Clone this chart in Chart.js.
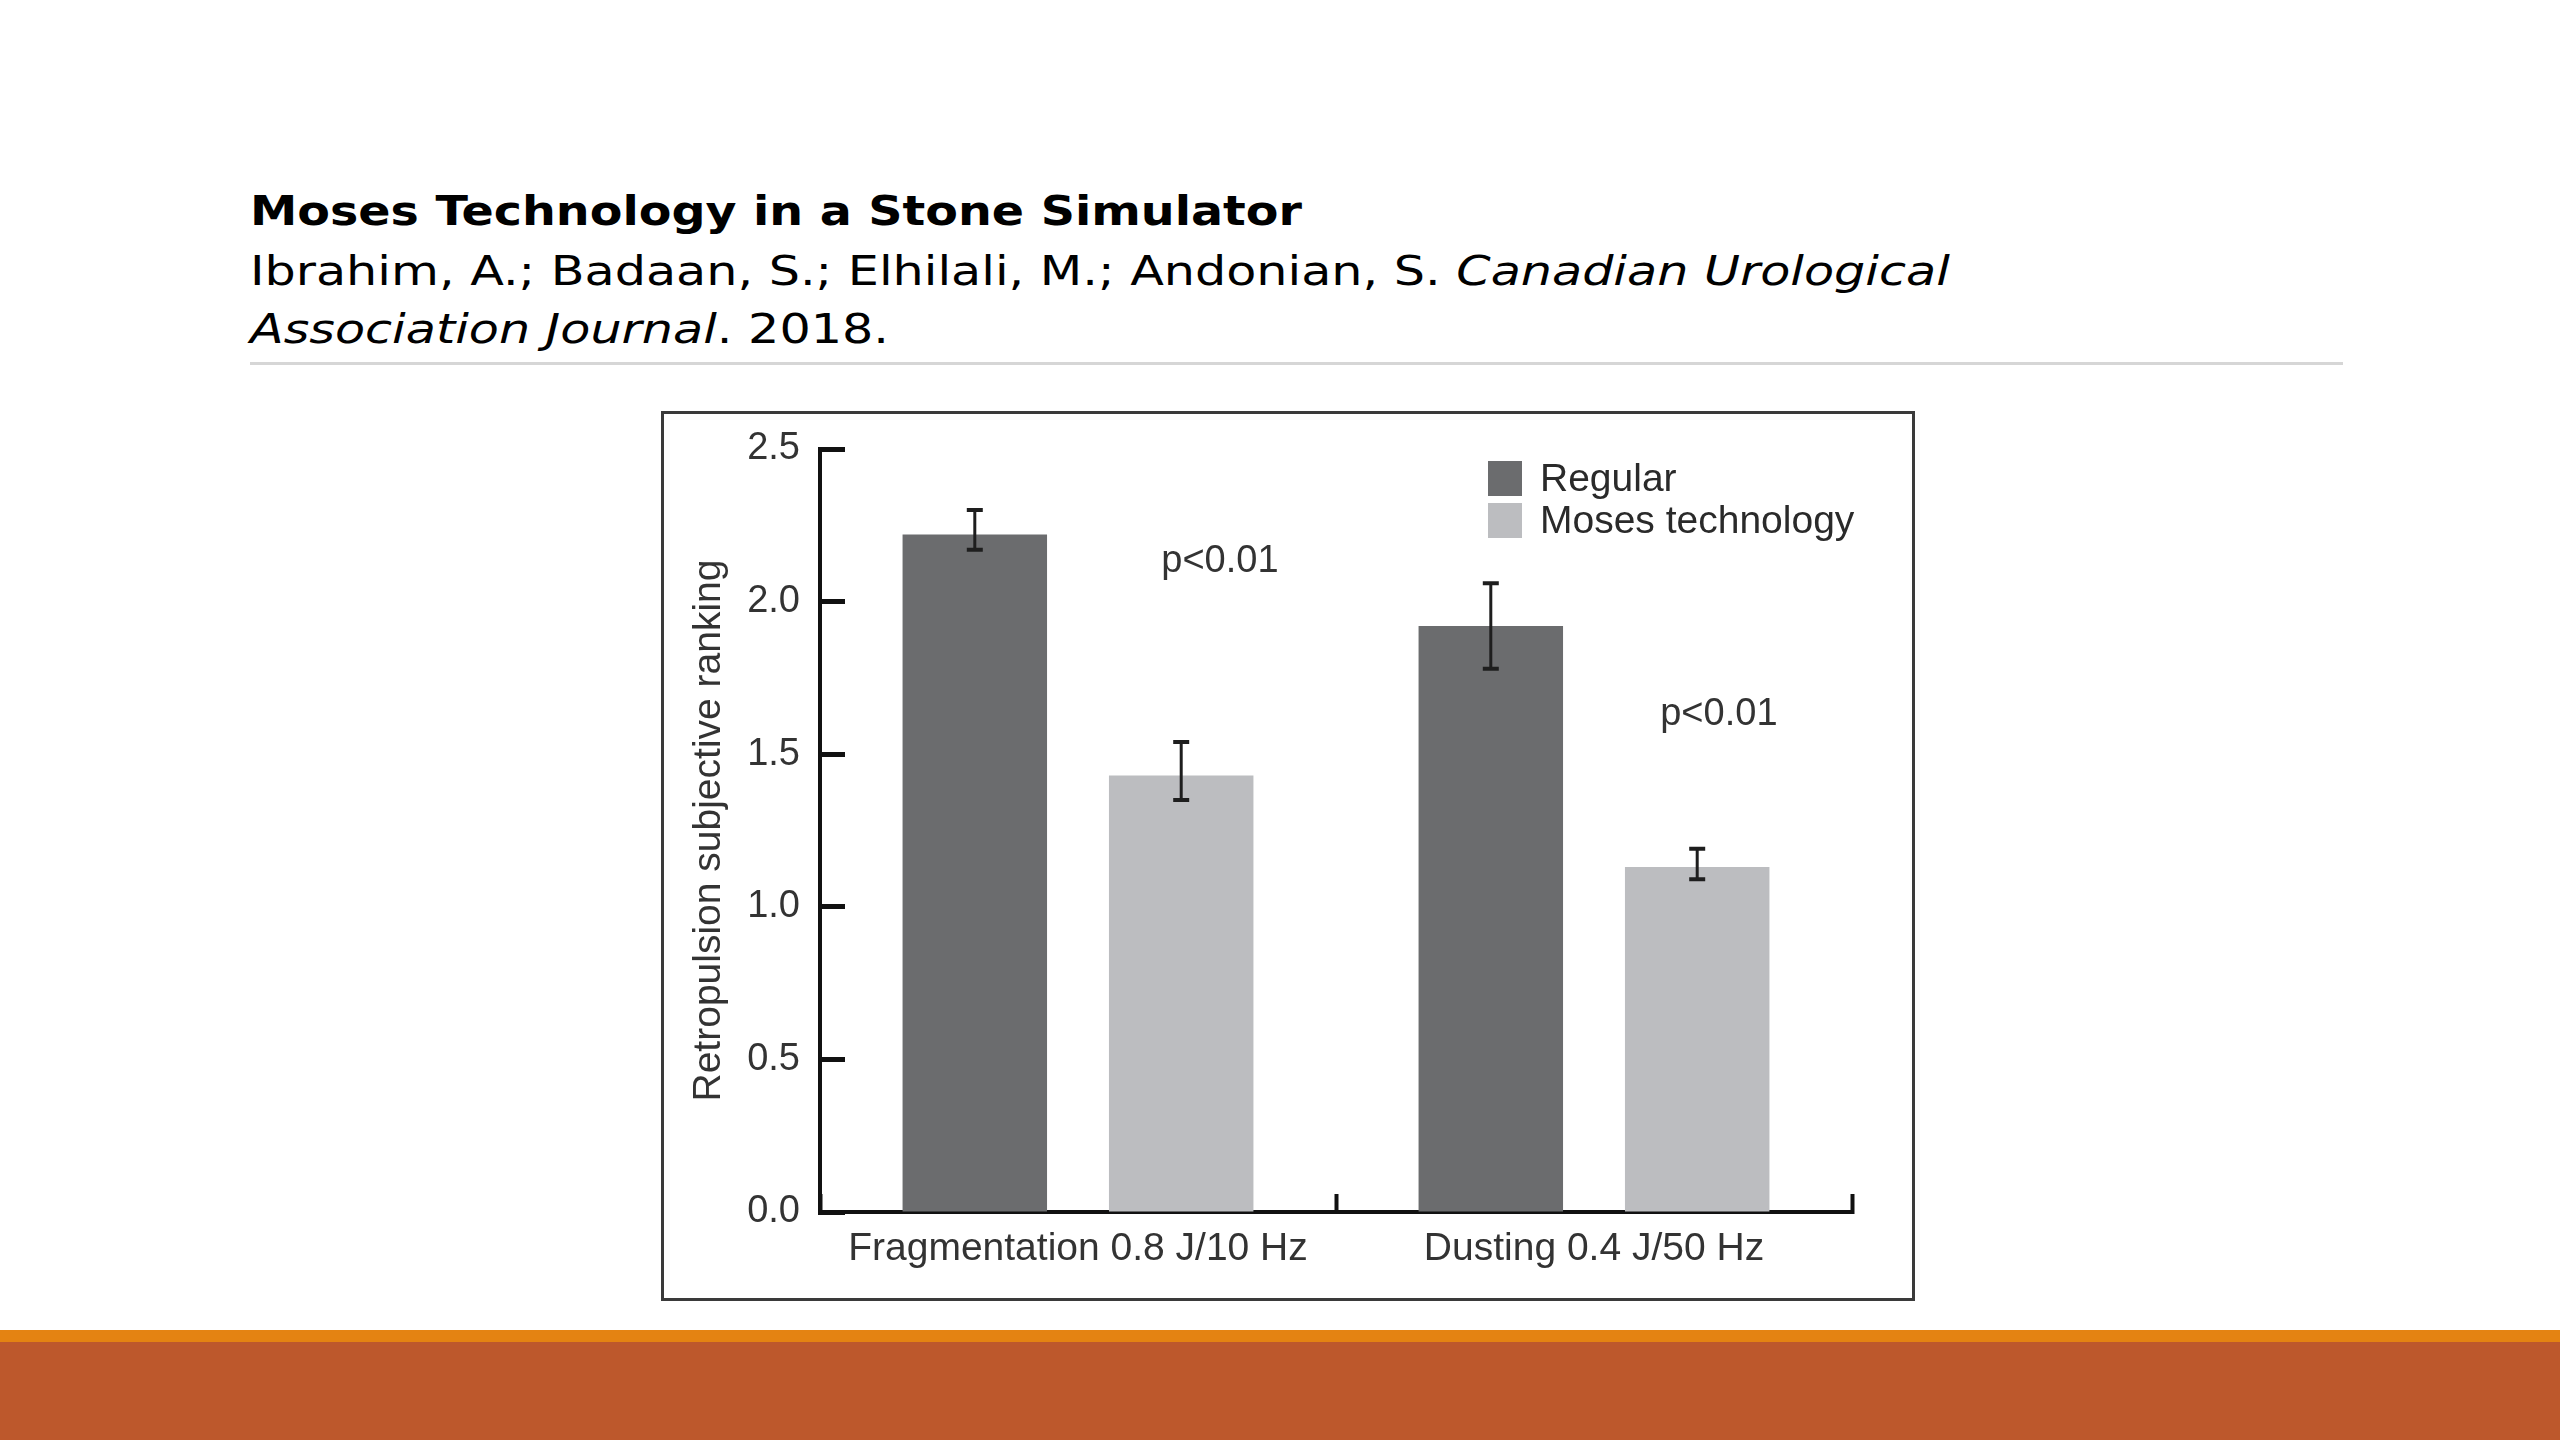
<!DOCTYPE html>
<html>
<head>
<meta charset="utf-8">
<script src="https://cdn.jsdelivr.net/npm/chart.js@4.4.1/dist/chart.umd.min.js"></script>
<style>
  html, body { margin: 0; padding: 0; background: #fff; }
  body { width: 2560px; height: 1440px; position: relative; overflow: hidden; font-family: "DejaVu Sans", Verdana, sans-serif; color: #000; }
  .title { position: absolute; left: 250px; top: 186px; font-size: 41px; line-height: 50px; font-weight: bold; white-space: nowrap; transform: scaleX(1.16); transform-origin: 0 0; }
  .cite { position: absolute; left: 250px; top: 242px; font-size: 40px; line-height: 58px; white-space: nowrap; transform: scaleX(1.23); transform-origin: 0 0; }
  .rule { position: absolute; left: 250px; top: 362px; width: 2093px; height: 3px; background: #d6d6d6; }
  .frame { position: absolute; left: 661px; top: 411px; width: 1254px; height: 890px; border: 3px solid #3a3a3a; box-sizing: border-box; background: #fff; }
  .frame .inner { position: relative; width: 1248px; height: 884px; }
  .band1 { position: absolute; left: 0; top: 1330px; width: 2560px; height: 12px; background: #e48312; }
  .band2 { position: absolute; left: 0; top: 1342px; width: 2560px; height: 98px; background: #bd582c; }
</style>
</head>
<body>
<div class="title">Moses Technology in a Stone Simulator</div>
<div class="cite">Ibrahim, A.; Badaan, S.; Elhilali, M.; Andonian, S. <i>Canadian Urological</i><br><i>Association Journal</i>. 2018.</div>
<div class="rule"></div>
<div class="frame"><div class="inner"><canvas id="retroChart"></canvas></div></div>
<div class="band1"></div>
<div class="band2"></div>
<script>
// values
const categories = ["Fragmentation 0.8 J/10 Hz", "Dusting 0.4 J/50 Hz"];
const seriesNames = ["Regular", "Moses technology"];
const regularMean = [2.22, 1.92];
const regularErrHigh = [2.30, 2.06];
const regularErrLow = [2.17, 1.78];
const mosesMean = [1.43, 1.13];
const mosesErrHigh = [1.54, 1.19];
const mosesErrLow = [1.35, 1.09];
const pValueText = ["p<0.01", "p<0.01"];
const yTicks = [0, 0.5, 1.0, 1.5, 2.0, 2.5];

const chartFont = "'Liberation Sans', Arial, sans-serif";
const colors = ["#6b6c6e", "#bcbdc0"];

// error whiskers drawn from each bar's own position
const errorBars = {
    id: "errorBars",
    afterDatasetsDraw(chart) {
        const ctx = chart.ctx;
        const y = chart.scales.y;
        chart.data.datasets.forEach((ds, i) => {
            chart.getDatasetMeta(i).data.forEach((bar, j) => {
                const top = y.getPixelForValue(ds.errHigh[j]);
                const bottom = y.getPixelForValue(ds.errLow[j]);
                ctx.save();
                ctx.strokeStyle = "#1e1e1e";
                ctx.lineWidth = 3;
                ctx.beginPath();
                ctx.moveTo(bar.x, top);
                ctx.lineTo(bar.x, bottom);
                ctx.stroke();
                ctx.lineWidth = 4;
                ctx.beginPath();
                ctx.moveTo(bar.x - 8, top);
                ctx.lineTo(bar.x + 8, top);
                ctx.moveTo(bar.x - 8, bottom);
                ctx.lineTo(bar.x + 8, bottom);
                ctx.stroke();
                ctx.restore();
            });
        });
    },
};

// p-value notes, placed in data units
const pNotes = {
    id: "pNotes",
    afterDatasetsDraw(chart) {
        const ctx = chart.ctx;
        const x = chart.scales.x;
        const y = chart.scales.y;
        const spots = [[0.275, 2.13], [1.242, 1.63]];
        ctx.save();
        ctx.font = "38px " + chartFont;
        ctx.fillStyle = "#333";
        ctx.textAlign = "center";
        ctx.textBaseline = "middle";
        pValueText.forEach((t, i) => {
            ctx.fillText(t, x.getPixelForValue(spots[i][0]), y.getPixelForValue(spots[i][1]));
        });
        ctx.restore();
    },
};

// legend in the top right corner of the plot
const innerLegend = {
    id: "innerLegend",
    afterDraw(chart) {
        const ctx = chart.ctx;
        const area = chart.chartArea;
        const left = area.right - 364;
        const top = area.top + 12;
        ctx.save();
        ctx.font = "39px " + chartFont;
        ctx.textBaseline = "middle";
        chart.data.datasets.forEach((ds, i) => {
            const rowTop = top + i * 42;
            ctx.fillStyle = ds.backgroundColor;
            ctx.fillRect(left, rowTop, 34, 35);
            ctx.fillStyle = "#2a2a2a";
            ctx.fillText(ds.label, left + 52, rowTop + 19);
        });
        ctx.restore();
    },
};

new Chart(document.getElementById("retroChart"), {
    type: "bar",
    data: {
        labels: categories,
        datasets: [
            {
                label: seriesNames[0],
                data: regularMean,
                errHigh: regularErrHigh,
                errLow: regularErrLow,
                backgroundColor: colors[0],
                barPercentage: 0.7,
                categoryPercentage: 0.8,
            },
            {
                label: seriesNames[1],
                data: mosesMean,
                errHigh: mosesErrHigh,
                errLow: mosesErrLow,
                backgroundColor: colors[1],
                barPercentage: 0.7,
                categoryPercentage: 0.8,
            },
        ],
    },
    options: {
        responsive: true,
        maintainAspectRatio: false,
        animation: false,
        layout: { padding: { top: 35, right: 60, left: 0, bottom: 0 } },
        plugins: {
            legend: { display: false },
            tooltip: { enabled: false },
        },
        scales: {
            x: {
                grid: { drawOnChartArea: false, tickLength: -18, tickWidth: 4, color: "#111", offset: true },
                border: { color: "#111", width: 4 },
                ticks: { padding: 32, color: "#333", font: { family: chartFont, size: 39 } },
                afterFit: (s) => { s.height = 86; },
            },
            y: {
                min: 0,
                max: 2.5,
                afterBuildTicks: (s) => { s.ticks = yTicks.map((v) => ({ value: v })); },
                grid: { drawOnChartArea: false, tickLength: -25, tickWidth: 5, color: "#111" },
                border: { color: "#111", width: 4 },
                ticks: {
                    padding: 45,
                    color: "#333",
                    font: { family: chartFont, size: 38 },
                    callback: (v) => Number(v).toFixed(1),
                },
                title: {
                    display: true,
                    text: "Retropulsion subjective ranking",
                    color: "#333",
                    padding: { top: 22, bottom: 4 },
                    font: { family: chartFont, size: 39 },
                },
                afterFit: (s) => {
                    s.width = 156;
                    // tick padding is only there to push labels clear of the inward ticks
                    s.paddingTop = 10;
                    s.paddingBottom = 10;
                },
            },
        },
    },
    plugins: [errorBars, pNotes, innerLegend],
});
</script>
</body>
</html>
